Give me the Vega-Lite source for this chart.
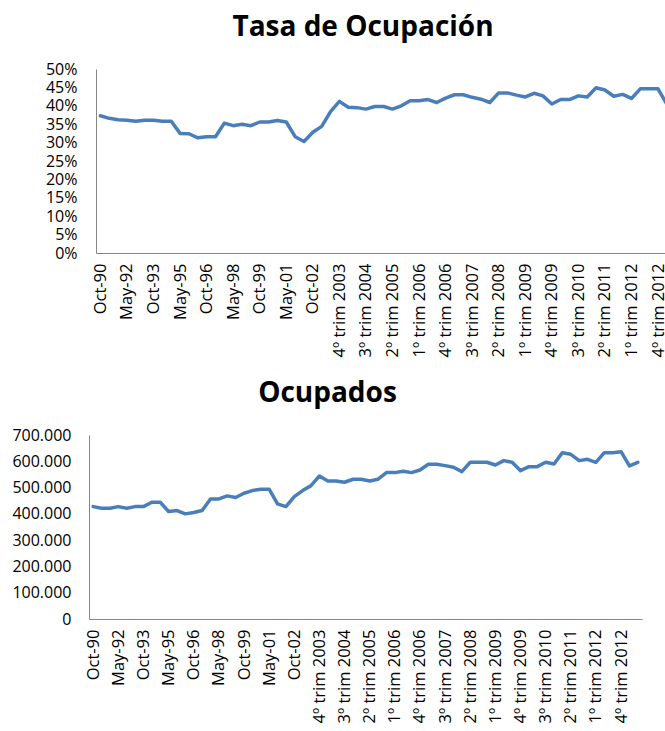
{
  "$schema": "https://vega.github.io/schema/vega-lite/v6.json",
  "padding": {"left": 5, "top": 14, "right": 0, "bottom": 0},
  "background": "white",
  "config": {
    "view": {"stroke": null},
    "font": "Open Sans",
    "axis": {"labelFont": "Open Sans", "labelFontSize": 16, "labelColor": "#000000", "domainColor": "#868686", "domainWidth": 1, "ticks": false, "grid": false, "title": null, "labelOverlap": false},
    "title": {"font": "Open Sans", "fontSize": 28, "fontWeight": "bold", "color": "#000000", "anchor": "middle", "frame": "group"}
  },
  "datasets": {
    "tabla": [
      {"n": 0, "periodo": "Oct-90", "tasa": 0.373, "ocupados": 427600},
      {"n": 1, "periodo": "May-91", "tasa": 0.366, "ocupados": 421500},
      {"n": 2, "periodo": "Oct-91", "tasa": 0.362, "ocupados": 421500},
      {"n": 3, "periodo": "May-92", "tasa": 0.361, "ocupados": 427600},
      {"n": 4, "periodo": "Oct-92", "tasa": 0.358, "ocupados": 421500},
      {"n": 5, "periodo": "May-93", "tasa": 0.361, "ocupados": 427600},
      {"n": 6, "periodo": "Oct-93", "tasa": 0.361, "ocupados": 427600},
      {"n": 7, "periodo": "May-94", "tasa": 0.358, "ocupados": 444300},
      {"n": 8, "periodo": "Oct-94", "tasa": 0.358, "ocupados": 444300},
      {"n": 9, "periodo": "May-95", "tasa": 0.325, "ocupados": 408800},
      {"n": 10, "periodo": "Oct-95", "tasa": 0.324, "ocupados": 412600},
      {"n": 11, "periodo": "May-96", "tasa": 0.313, "ocupados": 400000},
      {"n": 12, "periodo": "Oct-96", "tasa": 0.316, "ocupados": 405000},
      {"n": 13, "periodo": "May-97", "tasa": 0.316, "ocupados": 412600},
      {"n": 14, "periodo": "Oct-97", "tasa": 0.353, "ocupados": 456900},
      {"n": 15, "periodo": "May-98", "tasa": 0.346, "ocupados": 456900},
      {"n": 16, "periodo": "Oct-98", "tasa": 0.350, "ocupados": 468300},
      {"n": 17, "periodo": "May-99", "tasa": 0.346, "ocupados": 462000},
      {"n": 18, "periodo": "Oct-99", "tasa": 0.356, "ocupados": 478500},
      {"n": 19, "periodo": "May-00", "tasa": 0.356, "ocupados": 488500},
      {"n": 20, "periodo": "Oct-00", "tasa": 0.360, "ocupados": 493700},
      {"n": 21, "periodo": "May-01", "tasa": 0.356, "ocupados": 493700},
      {"n": 22, "periodo": "Oct-01", "tasa": 0.316, "ocupados": 437900},
      {"n": 23, "periodo": "May-02", "tasa": 0.303, "ocupados": 427600},
      {"n": 24, "periodo": "Oct-02", "tasa": 0.328, "ocupados": 465600},
      {"n": 25, "periodo": "2º trim 2003", "tasa": 0.344, "ocupados": 488500},
      {"n": 26, "periodo": "3º trim 2003", "tasa": 0.384, "ocupados": 507400},
      {"n": 27, "periodo": "4º trim 2003", "tasa": 0.412, "ocupados": 544200},
      {"n": 28, "periodo": "1º trim 2004", "tasa": 0.396, "ocupados": 525200},
      {"n": 29, "periodo": "2º trim 2004", "tasa": 0.395, "ocupados": 525200},
      {"n": 30, "periodo": "3º trim 2004", "tasa": 0.391, "ocupados": 520200},
      {"n": 31, "periodo": "4º trim 2004", "tasa": 0.398, "ocupados": 531700},
      {"n": 32, "periodo": "1º trim 2005", "tasa": 0.398, "ocupados": 531700},
      {"n": 33, "periodo": "2º trim 2005", "tasa": 0.391, "ocupados": 525200},
      {"n": 34, "periodo": "3º trim 2005", "tasa": 0.400, "ocupados": 531700},
      {"n": 35, "periodo": "4º trim 2005", "tasa": 0.414, "ocupados": 556900},
      {"n": 36, "periodo": "1º trim 2006", "tasa": 0.414, "ocupados": 556900},
      {"n": 37, "periodo": "2º trim 2006", "tasa": 0.417, "ocupados": 562000},
      {"n": 38, "periodo": "3º trim 2006", "tasa": 0.409, "ocupados": 556900},
      {"n": 39, "periodo": "4º trim 2006", "tasa": 0.421, "ocupados": 567000},
      {"n": 40, "periodo": "1º trim 2007", "tasa": 0.430, "ocupados": 588600},
      {"n": 41, "periodo": "2º trim 2007", "tasa": 0.430, "ocupados": 588600},
      {"n": 42, "periodo": "3º trim 2007", "tasa": 0.423, "ocupados": 583500},
      {"n": 43, "periodo": "4º trim 2007", "tasa": 0.418, "ocupados": 577200},
      {"n": 44, "periodo": "1º trim 2008", "tasa": 0.409, "ocupados": 560600},
      {"n": 45, "periodo": "2º trim 2008", "tasa": 0.435, "ocupados": 596200},
      {"n": 46, "periodo": "3º trim 2008", "tasa": 0.435, "ocupados": 596200},
      {"n": 47, "periodo": "4º trim 2008", "tasa": 0.429, "ocupados": 596200},
      {"n": 48, "periodo": "1º trim 2009", "tasa": 0.424, "ocupados": 586000},
      {"n": 49, "periodo": "2º trim 2009", "tasa": 0.434, "ocupados": 602500},
      {"n": 50, "periodo": "3º trim 2009", "tasa": 0.427, "ocupados": 596200},
      {"n": 51, "periodo": "4º trim 2009", "tasa": 0.405, "ocupados": 564400},
      {"n": 52, "periodo": "1º trim 2010", "tasa": 0.417, "ocupados": 579600},
      {"n": 53, "periodo": "2º trim 2010", "tasa": 0.417, "ocupados": 579600},
      {"n": 54, "periodo": "3º trim 2010", "tasa": 0.427, "ocupados": 596200},
      {"n": 55, "periodo": "4º trim 2010", "tasa": 0.424, "ocupados": 589800},
      {"n": 56, "periodo": "1º trim 2011", "tasa": 0.449, "ocupados": 632800},
      {"n": 57, "periodo": "2º trim 2011", "tasa": 0.443, "ocupados": 626500},
      {"n": 58, "periodo": "3º trim 2011", "tasa": 0.426, "ocupados": 602500},
      {"n": 59, "periodo": "4º trim 2011", "tasa": 0.431, "ocupados": 607600},
      {"n": 60, "periodo": "1º trim 2012", "tasa": 0.420, "ocupados": 596200},
      {"n": 61, "periodo": "2º trim 2012", "tasa": 0.446, "ocupados": 632800},
      {"n": 62, "periodo": "3º trim 2012", "tasa": 0.446, "ocupados": 632800},
      {"n": 63, "periodo": "4º trim 2012", "tasa": 0.446, "ocupados": 636600},
      {"n": 64, "periodo": "1º trim 2013", "tasa": 0.404, "ocupados": 582200},
      {"n": 65, "periodo": "2º trim 2013", "tasa": 0.412, "ocupados": 596200}
    ]
  },
  "data": {"name": "tabla"},
  "columns": 1,
  "spacing": 23,
  "concat": [
    {
      "title": {"text": "Tasa de Ocupación", "dx": -14, "offset": 19},
      "width": 576,
      "height": 184,
      "mark": {"type": "line", "color": "#4A7EBB", "strokeWidth": 3.5, "clip": true, "strokeJoin": "round", "strokeCap": "round"},
      "encoding": {
        "x": {
          "field": "n", "type": "quantitative",
          "scale": {"domain": [-0.5, 63.79], "range": [7, 576], "nice": false, "zero": false},
          "axis": {
            "values": [0, 3, 6, 9, 12, 15, 18, 21, 24, 27, 30, 33, 36, 39, 42, 45, 48, 51, 54, 57, 60, 63],
            "labelExpr": "data('tabla')[datum.value].periodo",
            "labelAngle": 270, "labelAlign": "right", "labelBaseline": "middle", "labelFontSize": 16.5,
            "labelPadding": 10, "labelBound": false, "labelFlush": false
          }
        },
        "y": {
          "field": "tasa", "type": "quantitative",
          "scale": {"domain": [0, 0.5], "nice": false},
          "axis": {
            "values": [0, 0.05, 0.1, 0.15, 0.2, 0.25, 0.3, 0.35, 0.4, 0.45, 0.5],
            "format": ".0%", "labelPadding": 19, "offset": -7, "minExtent": 84
          }
        }
      }
    },
    {
      "title": {"text": "Ocupados", "dx": -38, "offset": 19},
      "width": 553,
      "height": 184,
      "mark": {"type": "line", "color": "#4A7EBB", "strokeWidth": 3.5, "clip": true, "strokeJoin": "round", "strokeCap": "round"},
      "encoding": {
        "x": {
          "field": "n", "type": "quantitative",
          "scale": {"domain": [-0.5, 65.5], "nice": false, "zero": false},
          "axis": {
            "values": [0, 3, 6, 9, 12, 15, 18, 21, 24, 27, 30, 33, 36, 39, 42, 45, 48, 51, 54, 57, 60, 63],
            "labelExpr": "data('tabla')[datum.value].periodo",
            "labelAngle": 270, "labelAlign": "right", "labelBaseline": "middle", "labelFontSize": 16.5,
            "labelPadding": 10, "labelBound": false, "labelFlush": false
          }
        },
        "y": {
          "field": "ocupados", "type": "quantitative",
          "scale": {"domain": [0, 700000], "nice": false},
          "axis": {
            "values": [0, 100000, 200000, 300000, 400000, 500000, 600000, 700000],
            "labelExpr": "replace(format(datum.value, ','), ',', '.')",
            "labelPadding": 18, "minExtent": 84
          }
        }
      }
    }
  ]
}
